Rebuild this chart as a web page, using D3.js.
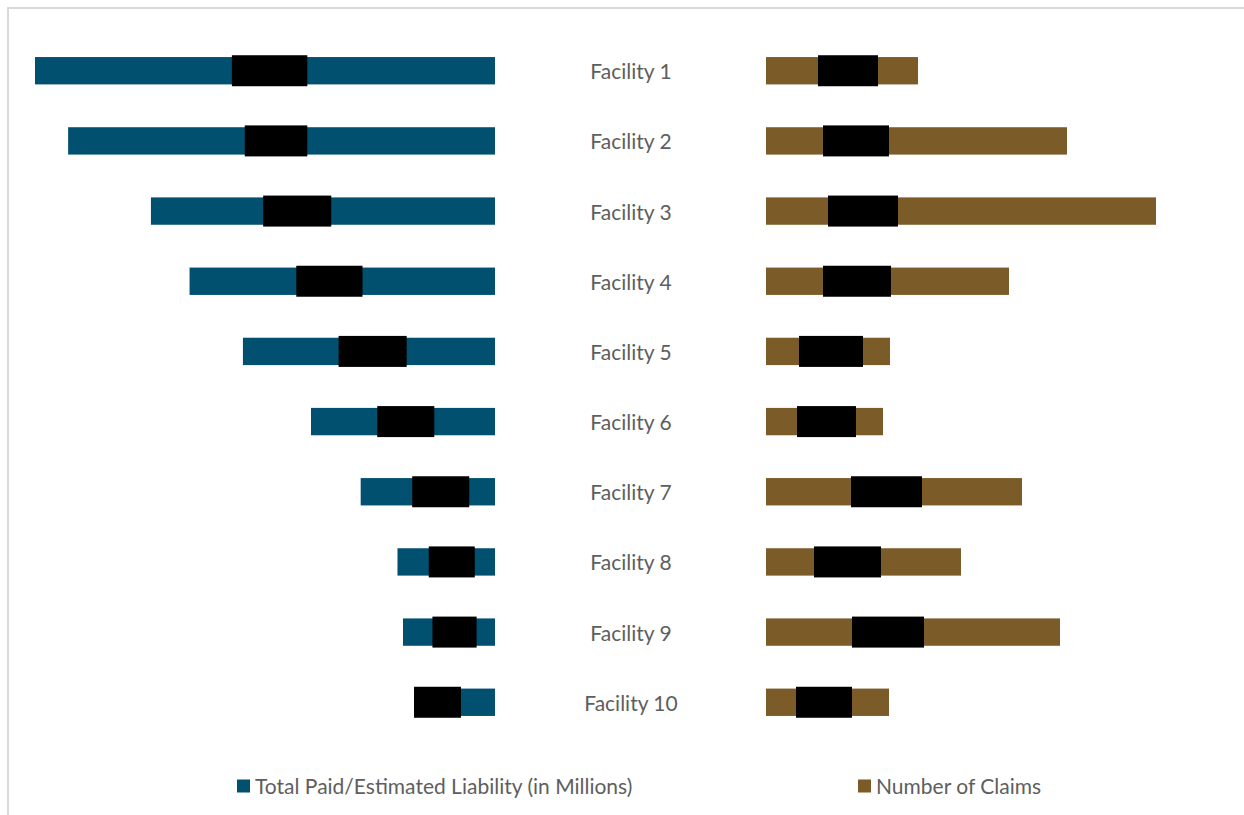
<!DOCTYPE html>
<html>
<head>
<meta charset="utf-8">
<script src="https://cdn.jsdelivr.net/npm/d3@7"></script>
<style>
  body { margin: 0; background: #fff; overflow: hidden; }
  svg text { font-family: Lato, "Open Sans", sans-serif; fill: #5e5e5e; }
</style>
</head>
<body>
<script>
// facility names, top to bottom
var facilities = ["Facility 1", "Facility 2", "Facility 3", "Facility 4", "Facility 5",
                  "Facility 6", "Facility 7", "Facility 8", "Facility 9", "Facility 10"];

// total paid / estimated liability (millions)
var liability = [25.0, 23.2, 18.7, 16.6, 13.7, 10.0, 7.3, 5.3, 5.0, 4.4];

// number of claims
var claims = [152, 301, 390, 243, 124, 117, 256, 195, 294, 123];

// blacked-out value labels, [from, to] in each series' units
var liabilityRedact = [[10.2, 14.3], [10.2, 13.6], [8.9, 12.6], [7.2, 10.8], [4.8, 8.5],
                       [3.3, 6.4], [1.4, 4.5], [1.1, 3.6], [1.0, 3.4], [1.85, 4.4]];
var claimsRedact = [[52, 112], [57, 123], [62, 132], [57, 125], [33, 97],
                    [31, 90], [85, 156], [48, 115], [86, 158], [30, 86]];

var legendLabels = ["Total Paid/Estimated Liability (in Millions)", "Number of Claims"];

window.onload = function () {
    var w = 1244, h = 815;
    var blue = "#02506f", brown = "#7b5b28";

    var svg = d3.select("body").append("svg")
        .attr("width", w)
        .attr("height", h)
        .style("display", "block");

    // light frame (only top and left edges show in the frame)
    svg.append("path")
        .attr("d", "M8,815 V8 H1244")
        .attr("fill", "none")
        .attr("stroke", "#d9d9d9")
        .attr("stroke-width", 2);

    // rows
    var y = d3.scaleBand()
        .domain(facilities)
        .range([36, 737])
        .paddingInner(0.61)
        .paddingOuter(0.3);

    // left side grows leftwards from the centre gap
    var xL = d3.scaleLinear().domain([0, 25]).range([495, 35]);
    // right side grows rightwards
    var xR = d3.scaleLinear().domain([0, 400]).range([766, 1166]);

    var rows = facilities.map(function (f, i) {
        return { name: f, liab: liability[i], claims: claims[i],
                 lr: liabilityRedact[i], cr: claimsRedact[i] };
    });

    // liability bars
    svg.selectAll(".liab")
        .data(rows)
        .enter()
        .append("rect")
        .attr("class", "liab")
        .attr("x", function (d) { return xL(d.liab); })
        .attr("y", function (d) { return y(d.name); })
        .attr("width", function (d) { return xL(0) - xL(d.liab); })
        .attr("height", y.bandwidth())
        .attr("fill", blue);

    // claims bars
    svg.selectAll(".claims")
        .data(rows)
        .enter()
        .append("rect")
        .attr("class", "claims")
        .attr("x", xR(0))
        .attr("y", function (d) { return y(d.name); })
        .attr("width", function (d) { return xR(d.claims) - xR(0); })
        .attr("height", y.bandwidth())
        .attr("fill", brown);

    // redaction boxes over the value labels
    var boxH = 31;
    svg.selectAll(".redL")
        .data(rows)
        .enter()
        .append("rect")
        .attr("class", "redL")
        .attr("x", function (d) { return xL(d.lr[1]); })
        .attr("y", function (d) { return y(d.name) + y.bandwidth() / 2 - boxH / 2; })
        .attr("width", function (d) { return xL(d.lr[0]) - xL(d.lr[1]); })
        .attr("height", boxH)
        .attr("fill", "#000");

    svg.selectAll(".redR")
        .data(rows)
        .enter()
        .append("rect")
        .attr("class", "redR")
        .attr("x", function (d) { return xR(d.cr[0]); })
        .attr("y", function (d) { return y(d.name) + y.bandwidth() / 2 - boxH / 2; })
        .attr("width", function (d) { return xR(d.cr[1]) - xR(d.cr[0]); })
        .attr("height", boxH)
        .attr("fill", "#000");

    // facility labels in the middle
    svg.selectAll(".cat")
        .data(rows)
        .enter()
        .append("text")
        .attr("class", "cat")
        .attr("x", 631)
        .attr("y", function (d) { return y(d.name) + y.bandwidth() / 2 + 1; })
        .attr("dy", "0.36em")
        .attr("text-anchor", "middle")
        .style("font-size", "21px")
        .text(function (d) { return d.name; });

    // legend
    var legend = svg.selectAll(".legend")
        .data(legendLabels)
        .enter()
        .append("g")
        .attr("class", "legend")
        .attr("transform", function (d, i) { return "translate(" + [237, 858][i] + ",786)"; });

    legend.append("rect")
        .attr("x", 0)
        .attr("y", -6.5)
        .attr("width", 13)
        .attr("height", 13)
        .attr("fill", function (d, i) { return i === 0 ? blue : brown; });

    legend.append("text")
        .attr("x", 18)
        .attr("dy", "0.36em")
        .style("font-size", "21px")
        .text(function (d) { return d; });
};
</script>
</body>
</html>
